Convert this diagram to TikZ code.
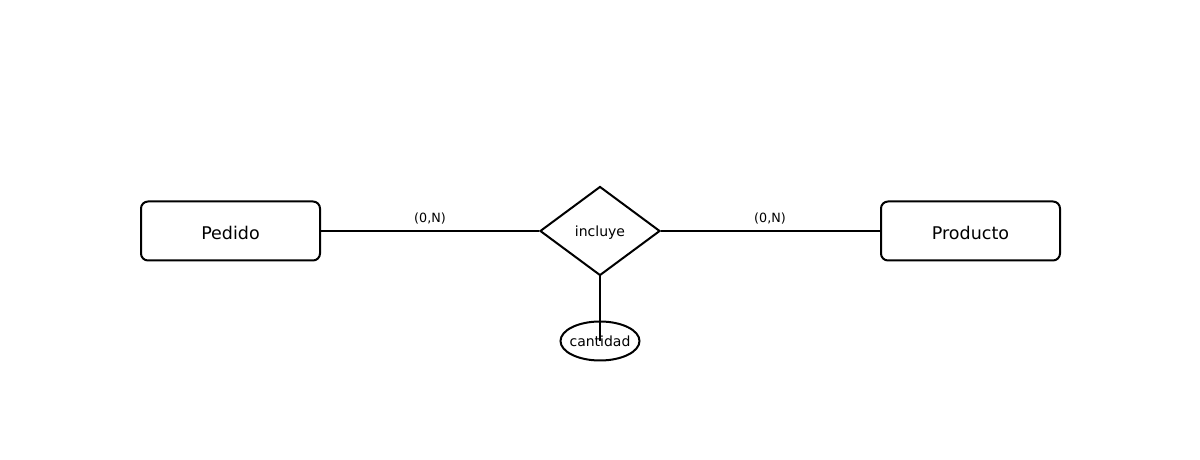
\documentclass[tikz,border=0pt]{standalone}
\usepackage{fontspec}
\setmainfont{DejaVu Sans}
\usetikzlibrary{shapes.geometric}
\tikzset{
  entity/.style={draw, line width=2pt, rounded corners=7pt, minimum width=179pt, minimum height=59pt, inner sep=0pt, text height=17.5pt, text depth=0pt, font=\fontsize{17.5}{20}\selectfont},
  relation/.style={draw, line width=2pt, diamond, minimum width=120pt, minimum height=89pt, inner sep=0pt, text height=12pt, text depth=1pt, font=\fontsize{14}{16}\selectfont},
  attribtext/.style={inner sep=0pt, text height=12pt, text depth=0pt, font=\fontsize{14}{16}\selectfont},
  outline/.style={draw, line width=2pt},
  card/.style={font=\fontsize{12.7}{14}\selectfont, inner sep=0pt},
  conn/.style={line width=2pt}
}
\begin{document}
\begin{tikzpicture}[x=1pt,y=1pt]
\useasboundingbox (0,0) rectangle (1200,460);
\node[entity] (pedido) at (230.5,229) {Pedido};
\node[entity] (producto) at (970.5,229) {Producto};
\node[relation] (incluye) at (600,229) {incluye};
\node[attribtext] (cantidad) at (600,119) {cantidad};
\draw[outline] (cantidad.center) ellipse [x radius=39.5pt, y radius=19.5pt];
\node[card] (c1) at (430,241) {(0,N)};
\node[card] (c2) at (770,241) {(0,N)};
\draw[conn] (pedido.east) -- (incluye.west);
\draw[conn] (incluye.east) -- (producto.west);
\draw[conn] (incluye.south) -- (cantidad.center);
\end{tikzpicture}
\end{document}
